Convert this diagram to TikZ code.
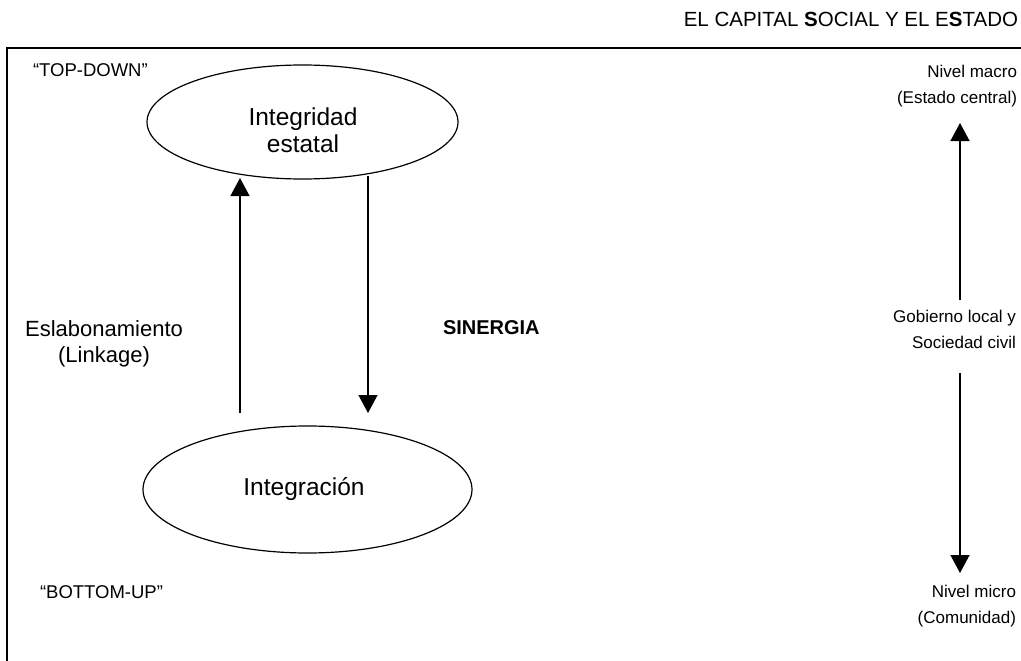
\documentclass[tikz,border=0pt]{standalone}
\usepackage{fontspec}
\setmainfont{Liberation Sans}
\usetikzlibrary{arrows.meta,shapes.geometric}

\tikzset{
  frameline/.style={line width=1.5pt},
  oval/.style={draw, ellipse, line width=1.2pt, inner sep=0pt},
  arr/.style={line width=1.3pt, -{Triangle[width=19pt,length=18pt]}},
  plain/.style={inner sep=0pt, outer sep=0pt},
  ovaltext/.style={plain, align=center, font=\fontsize{24.5}{27.5}\selectfont},
  sidetext/.style={plain, align=center, font=\fontsize{22}{26}\selectfont},
  tagtext/.style={plain, font=\fontsize{18.5}{22}\selectfont},
  leveltext/.style={plain, align=right, font=\fontsize{17}{26}\selectfont},
}

\begin{document}
\begin{tikzpicture}[x=1pt, y=-1pt]
  \useasboundingbox (0,0) rectangle (1021,661);

  % heading and frame
  \node[plain, anchor=base east, font=\fontsize{20.5}{24}\selectfont] (title) at (1018,27)
    {EL CAPITAL \textbf{S}OCIAL Y EL E\textbf{S}TADO};
  \coordinate (frameTL) at (7,48);
  \coordinate (frameTR) at (1021,48);
  \coordinate (frameBL) at (7,661);
  \draw[frameline] (frameTR) -- (frameTL) -- (frameBL);

  % the two levels (multi-line text is placed by the baseline of its last line)
  \node[oval, minimum width=311pt, minimum height=114pt] (estatal) at (302.5,122) {};
  \node[ovaltext, anchor=base] (estataltxt) at (303,153) {Integridad\\estatal};
  \node[oval, minimum width=329pt, minimum height=127pt] (integ) at (307.5,489.5) {};
  \node[ovaltext, anchor=base] (integtxt) at (304,495) {Integración};

  % linkage (upwards) and synergy (downwards)
  \coordinate (linkFoot) at (240,413);
  \coordinate (linkTip) at (240,178);
  \coordinate (synTop) at (368,176);
  \coordinate (synTip) at (368,413);
  \draw[arr] (linkFoot) -- (linkTip);
  \draw[arr] (synTop) -- (synTip);

  \node[sidetext, anchor=base] (linkage) at (104,362) {Eslabonamiento\\(Linkage)};
  \node[plain, anchor=base west, font=\fontsize{20}{24}\selectfont\bfseries] (sinergia) at (443,334) {SINERGIA};

  \node[tagtext, anchor=base west] (topdown) at (33,77) {“TOP-DOWN”};
  \node[tagtext, anchor=base west] (bottomup) at (40,598) {“BOTTOM-UP”};

  % scale of levels on the right
  \node[leveltext, anchor=base east] (macro) at (1017,103) {Nivel macro\\(Estado central)};
  \node[leveltext, anchor=base east] (local) at (1016,348) {Gobierno local y\\Sociedad civil};
  \node[leveltext, anchor=base east] (micro) at (1016,623) {Nivel micro\\(Comunidad)};

  \coordinate (upFoot) at (960,300);
  \coordinate (upTip) at (960,123);
  \coordinate (downTop) at (960,373);
  \coordinate (downTip) at (960,573);
  \draw[arr] (upFoot) -- (upTip);
  \draw[arr] (downTop) -- (downTip);
\end{tikzpicture}
\end{document}
